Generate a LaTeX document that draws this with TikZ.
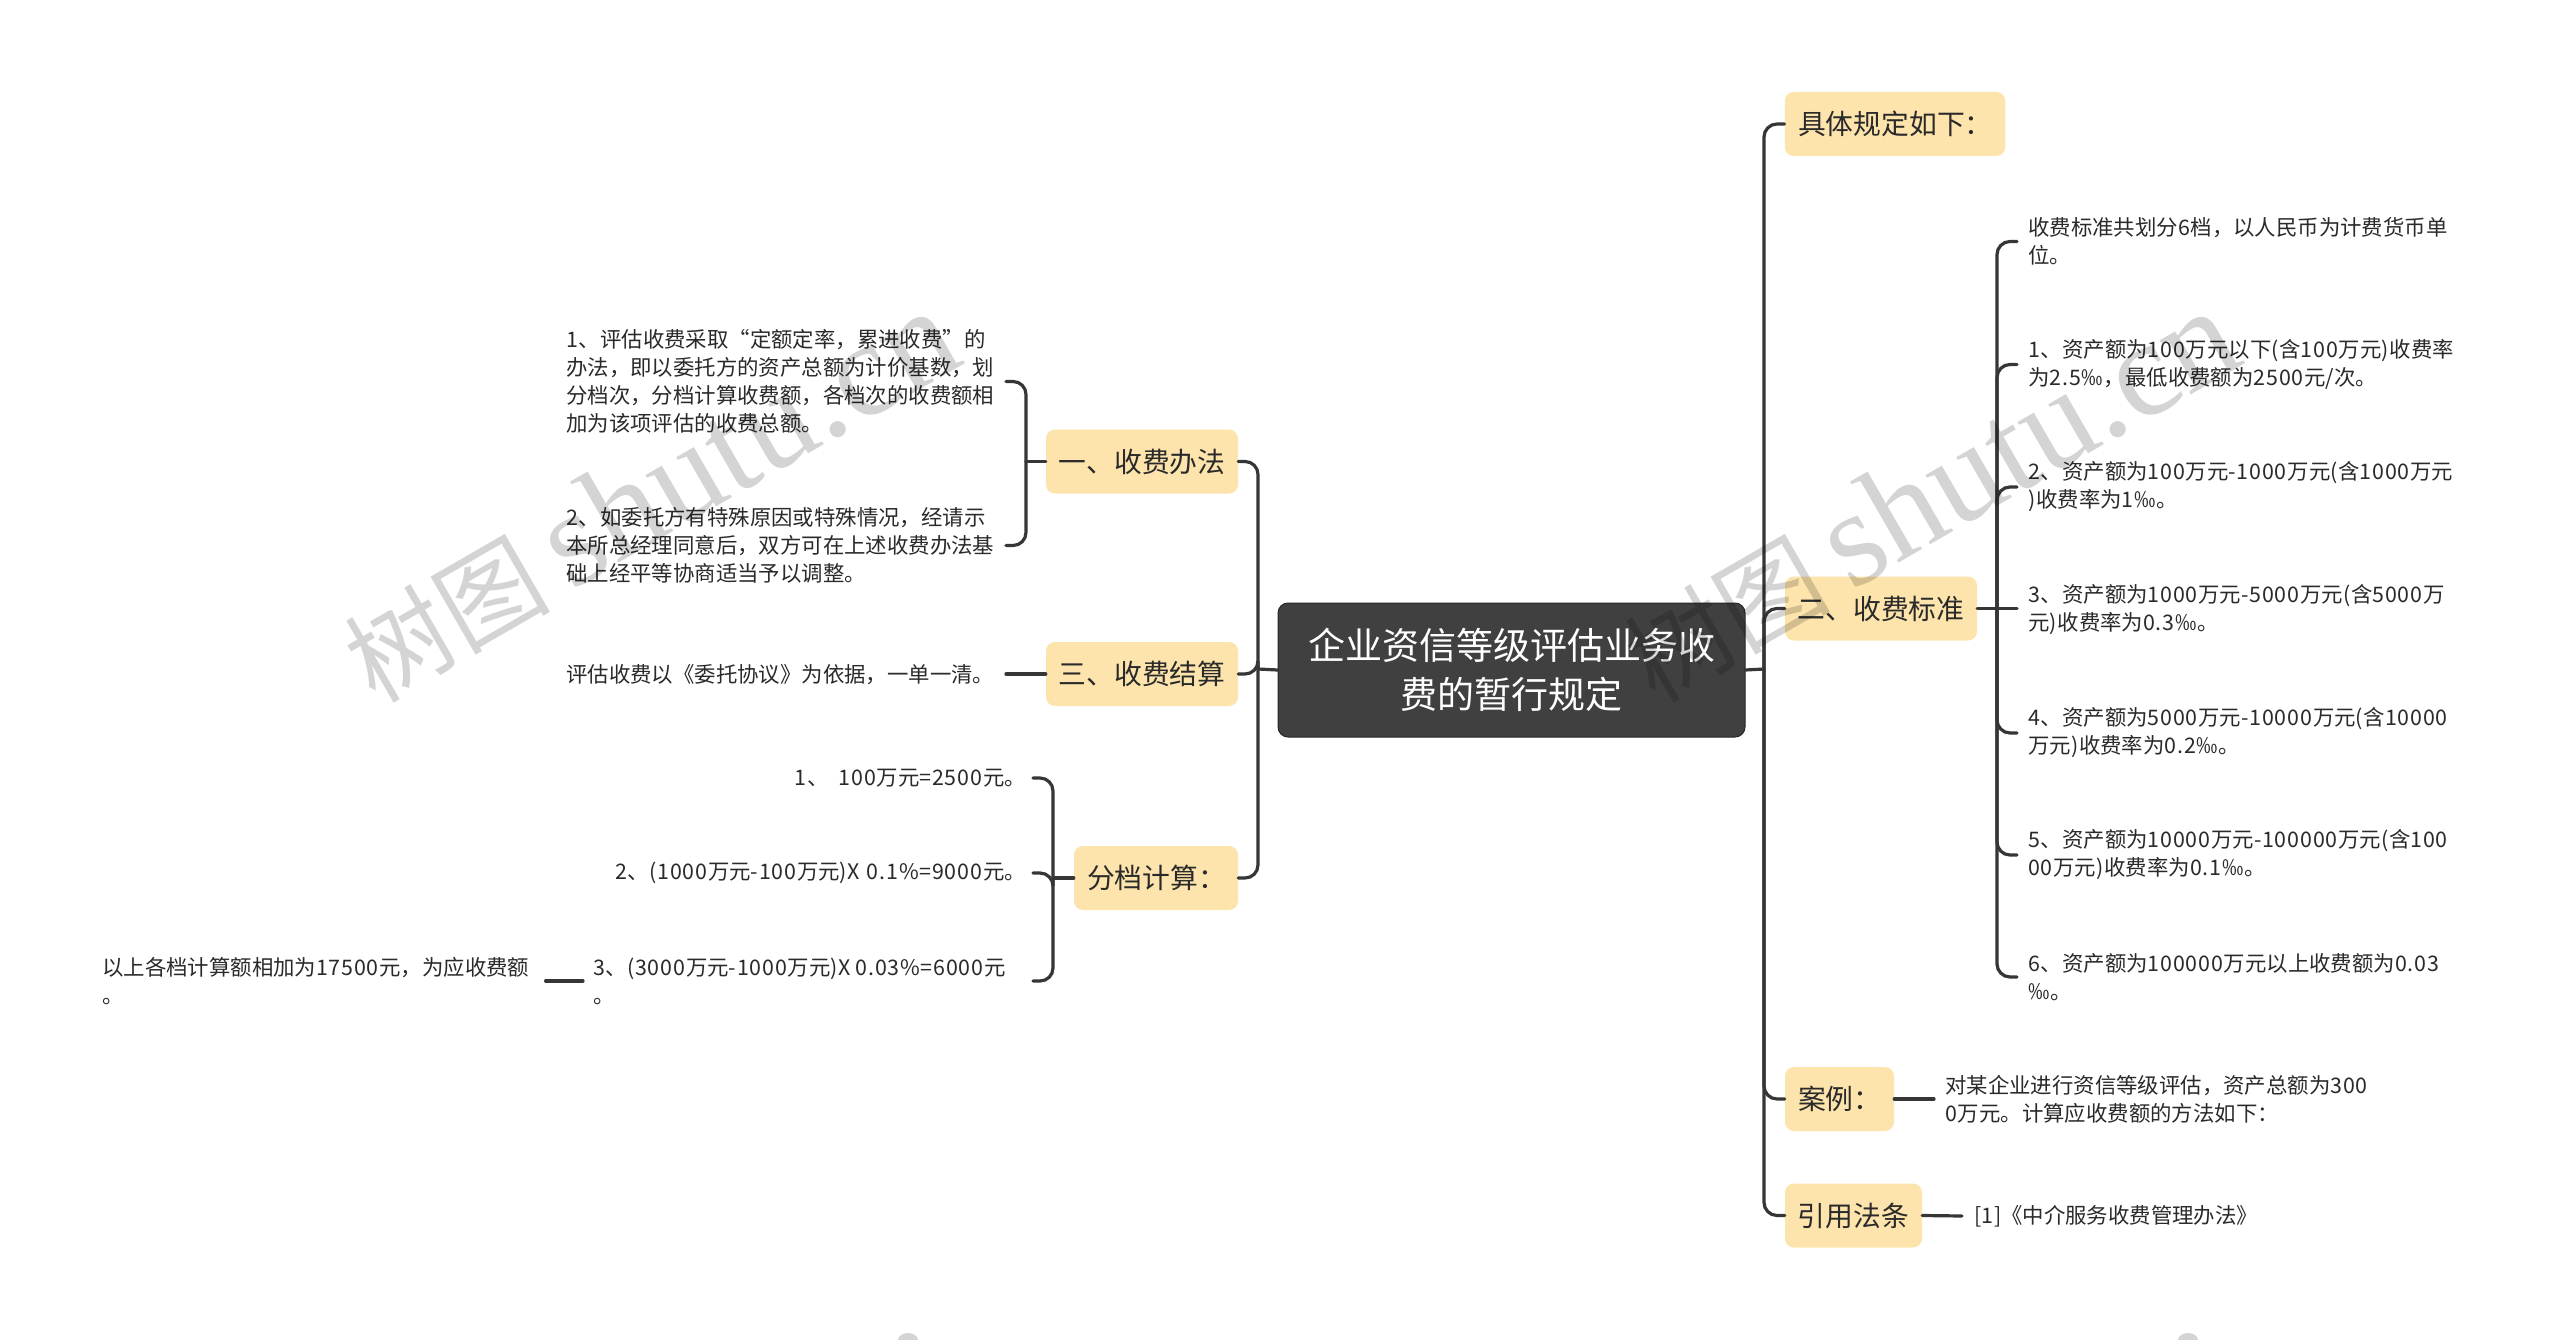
\documentclass[tikz,border=0pt]{standalone}
\usepackage{fontspec}
\setmainfont{Noto Sans CJK SC}
\newfontfamily\wmlatin{Liberation Serif}
\definecolor{boxfill}{HTML}{FDE4AC}
\definecolor{rootfill}{HTML}{404040}
\definecolor{linec}{HTML}{363636}
\definecolor{textc}{HTML}{2A2A2A}
\newcommand{\zc}{^^^^ff0c}
\newcommand{\zd}{^^^^ff1a}
% wider figures and signs, as in the reference
\chardef\wideasc=10
\XeTeXinterchartokenstate=1
\XeTeXcharclass`0=\wideasc \XeTeXcharclass`1=\wideasc \XeTeXcharclass`2=\wideasc
\XeTeXcharclass`3=\wideasc \XeTeXcharclass`4=\wideasc \XeTeXcharclass`5=\wideasc
\XeTeXcharclass`6=\wideasc \XeTeXcharclass`7=\wideasc \XeTeXcharclass`8=\wideasc
\XeTeXcharclass`9=\wideasc \XeTeXcharclass`(=\wideasc \XeTeXcharclass`)=\wideasc
\XeTeXcharclass`\==\wideasc \XeTeXcharclass`-=\wideasc \XeTeXcharclass`.=\wideasc
\XeTeXcharclass`\%=\wideasc \XeTeXcharclass`‰=\wideasc \XeTeXcharclass`X=\wideasc
\XeTeXinterchartoks\wideasc\wideasc={\kern0.8pt}
\XeTeXinterchartoks\wideasc 0={\kern0.8pt}
\XeTeXinterchartoks\wideasc 1={\kern0.8pt}
\XeTeXinterchartoks\wideasc 2={\kern0.8pt}
\XeTeXinterchartoks\wideasc 3={\kern0.8pt}
\tikzset{
  topic/.style={fill=boxfill,rounded corners=9pt,inner sep=0pt,text=textc,
    font=\fontsize{27.8}{36}\selectfont,minimum height=64pt},
  rootbox/.style={fill=rootfill,draw=black!85,line width=1pt,rounded corners=10pt,inner sep=0pt,text=white,
    align=center,minimum width=467pt,minimum height=134pt,font=\fontsize{37}{49}\selectfont},
  leaf/.style={inner sep=0pt,text=textc,align=left,font=\fontsize{21.4}{28}\selectfont},
  conn/.style={draw=linec,line width=3.2pt,rounded corners=13pt,line cap=round},
  wm/.style={inner sep=0pt,text=black,opacity=0.17,rotate=30},
}
\newcommand{\wmtext}{{\fontsize{103}{120}\selectfont 树图}\hspace{20pt}{\wmlatin\fontsize{136}{120}\selectfont shutu.cn}}
\begin{document}
\begin{tikzpicture}[x=1pt,y=-1pt]
\useasboundingbox (0,0) rectangle (2560,1340);
\fill[white] (0,0) rectangle (2560,1340);
% root
\node[rootbox] (root) at (1511.5,670) {企业资信等级评估业务收\\费的暂行规定};
% right topics
\node[topic,minimum width=220.5pt,text width=194pt,align=left] (r1) at (1895,124) {具体规定如下\zd};
\node[topic,minimum width=192pt] (r2) at (1881,608.5) {二、收费标准};
\node[topic,minimum width=109pt,text width=83pt,align=left] (r3) at (1839.5,1099) {案例\zd};
\node[topic,minimum width=137pt] (r4) at (1853.5,1215.5) {引用法条};
% left topics
\node[topic,minimum width=192pt] (l1) at (1142,461.5) {一、收费办法};
\node[topic,minimum width=192pt] (l3) at (1142,674) {三、收费结算};
\node[topic,minimum width=164pt,text width=138pt,align=left] (l4) at (1156,878) {分档计算\zd};
% right leaves
\node[leaf,anchor=west] (s0) at (2028,241.5) {收费标准共划分6档\zc 以人民币为计费货币单\\位。};
\node[leaf,anchor=west] (s1) at (2028,364.5) {1、资产额为100万元以下(含100万元)收费率\\为2.5‰\zc 最低收费额为2500元/次。};
\node[leaf,anchor=west] (s2) at (2028,487) {2、资产额为100万元-1000万元(含1000万元\\)收费率为1‰。};
\node[leaf,anchor=west] (s3) at (2028,609.5) {3、资产额为1000万元-5000万元(含5000万\\元)收费率为0.3‰。};
\node[leaf,anchor=west] (s4) at (2028,733) {4、资产额为5000万元-10000万元(含10000\\万元)收费率为0.2‰。};
\node[leaf,anchor=west] (s5) at (2028,855) {5、资产额为10000万元-100000万元(含100\\00万元)收费率为0.1‰。};
\node[leaf,anchor=west] (s6) at (2028,977) {6、资产额为100000万元以上收费额为0.03\\‰。};
\node[leaf,anchor=west] (a3) at (1945,1099) {对某企业进行资信等级评估\zc 资产总额为300\\0万元。计算应收费额的方法如下\zd};
\node[leaf,anchor=west] (a4) at (1974,1216) {[1]《中介服务收费管理办法》};
% left leaves
\node[leaf,anchor=west] (c1) at (566,381.5) {1、评估收费采取“定额定率\zc 累进收费”的\\办法\zc 即以委托方的资产总额为计价基数\zc 划\\分档次\zc 分档计算收费额\zc 各档次的收费额相\\加为该项评估的收费总额。};
\node[leaf,anchor=west] (c2) at (566,545.5) {2、如委托方有特殊原因或特殊情况\zc 经请示\\本所总经理同意后\zc 双方可在上述收费办法基\\础上经平等协商适当予以调整。};
\node[leaf,anchor=west] (c3) at (566,675) {评估收费以《委托协议》为依据\zc 一单一清。};
\node[leaf,anchor=east] (e1) at (1026,778) {1、\hspace{5pt} 100万元=2500元。};
\node[leaf,anchor=east] (e2) at (1026,873) {2、(1000万元-100万元)X\hspace{2pt} 0.1\%=9000元。};
\node[leaf,anchor=west] (e3) at (593,981) {3、(3000万元-1000万元)X 0.03\%=6000元\\。};
\node[leaf,anchor=west] (e4) at (102,981) {以上各档计算额相加为17500元\zc 为应收费额\\。};
% buses
\coordinate (busR) at (1764,669);
\coordinate (busL) at (1258,669);
\coordinate (busS) at (1997,608.5);
\coordinate (endS) at (2017,608.5);
\coordinate (busC) at (1026,461.5);
\coordinate (endC) at (1006,461.5);
\coordinate (busE) at (1053,878);
\coordinate (endE) at (1033,878);
% connectors
\draw[conn] (root.east) -- (busR);
\draw[conn] (root.west) -- (busL);
\foreach \t in {r1,r2,r3,r4}{\draw[conn] (busR) -- (busR |- \t.west) -- (\t.west);}
\foreach \t in {l1,l3,l4}{\draw[conn] (busL) -- (busL |- \t.east) -- (\t.east);}
\draw[conn] (r2.east) -- (endS);
\foreach \t in {s0,s1,s2,s4,s5,s6}{\draw[conn] (busS) -- (busS |- \t.west) -- (endS |- \t.west);}
\draw[conn] (r3.east) -- ([xshift=-11pt]a3.west);
\draw[conn] (r4.east) -- ([xshift=-12pt]a4.west);
\draw[conn] (l1.west) -- (busC);
\foreach \t in {c1,c2}{\draw[conn] (busC) -- (busC |- \t.east) -- (endC |- \t.east);}
\draw[conn] (l3.west) -- (endC |- l3.west);
\draw[conn] (l4.west) -- (busE);
\foreach \t in {e1,e2,e3}{\draw[conn] (busE) -- (busE |- \t.east) -- (endE |- \t.east);}
\draw[conn] ([xshift=-10pt]e3.west) -- ([xshift=16pt]e4.east);
% watermarks
\node[wm] (wa) at (650,496) {\wmtext};
\node[wm] (wb) at (1930,496) {\wmtext};
\fill[black,opacity=0.17] (908,1340) ellipse (10pt and 7pt);
\fill[black,opacity=0.17] (2188,1340) ellipse (10pt and 7pt);
\end{tikzpicture}
\end{document}
